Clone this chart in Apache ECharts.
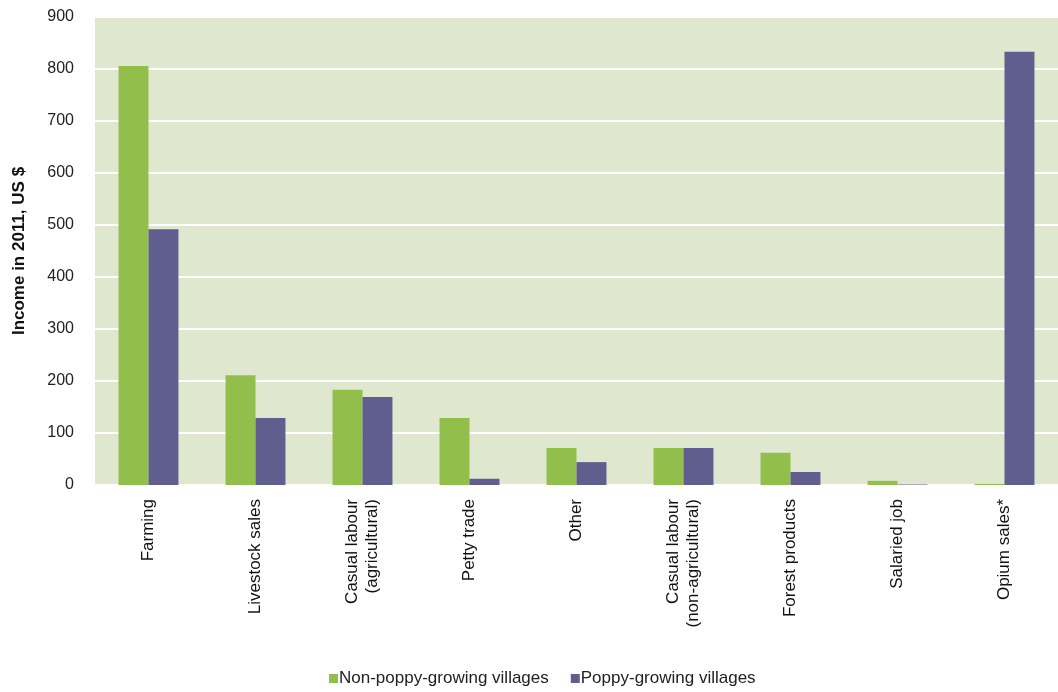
<!DOCTYPE html>
<html>
<head>
<meta charset="utf-8">
<script src="https://cdn.jsdelivr.net/npm/echarts@6/dist/echarts.min.js"></script>
<style>html,body{margin:0;padding:0;background:#fff;}#c{width:1058px;height:692px;}</style>
</head>
<body>
<div id="c"></div>
<script>
const categories = ["Farming", "Livestock sales", "Casual labour\n(agricultural)", "Petty trade", "Other", "Casual labour\n(non-agricultural)", "Forest products", "Salaried job", "Opium sales*"];
const nonPoppy = [806, 211, 183, 129, 71, 71, 62, 8, 2];
const poppy = [492, 129, 169, 12, 44, 71, 25, 1, 833];
const seriesNames = ["Non-poppy-growing villages", "Poppy-growing villages"];
const yTicks = [0, 100, 200, 300, 400, 500, 600, 700, 800, 900];

const chart = echarts.init(document.getElementById('c'), null, {renderer: 'canvas'});
const font = 'Liberation Sans, Arial, sans-serif';
chart.setOption({
  animation: false,
  textStyle: {fontFamily: font},
  grid: {left: 95, right: 0, top: 17, bottom: 207, show: true, backgroundColor: '#dfe7cf', borderWidth: 0},
  legend: {
    data: seriesNames, bottom: 0, left: 324, itemWidth: 9, itemHeight: 9, itemGap: 22,
    icon: 'rect', textStyle: {fontSize: 17, color: '#222', padding: [0, 0, 0, -4]}
  },
  xAxis: {
    type: 'category', data: categories,
    axisLine: {show: false}, axisTick: {show: false},
    axisLabel: {rotate: 90, fontSize: 17, color: '#111', margin: 14, lineHeight: 20, interval: 0}
  },
  yAxis: {
    type: 'value', min: yTicks[0], max: yTicks[yTicks.length - 1], interval: 100,
    name: 'Income in 2011, US $', nameLocation: 'middle', nameGap: 67,
    nameTextStyle: {fontSize: 17, fontWeight: 'bold', color: '#111'},
    axisLine: {show: false}, axisTick: {show: false},
    axisLabel: {fontSize: 16, color: '#222', margin: 21},
    splitLine: {lineStyle: {color: '#ffffff', width: 2}}
  },
  series: [
    {name: seriesNames[0], type: 'bar', data: nonPoppy, barGap: '0%', barCategoryGap: '44%',
     itemStyle: {color: '#92bf4b'}},
    {name: seriesNames[1], type: 'bar', data: poppy,
     itemStyle: {color: '#5f5e8e'}}
  ]
});
</script>
</body>
</html>
